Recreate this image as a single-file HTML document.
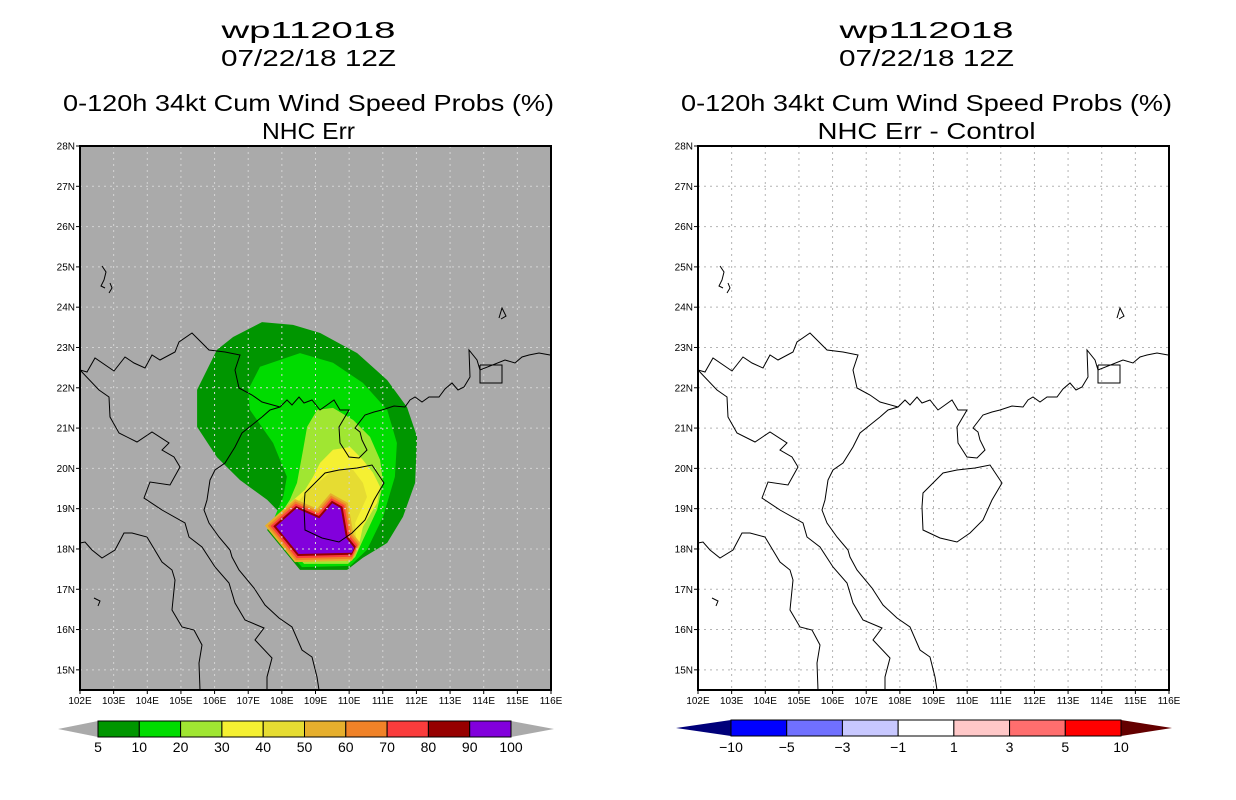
<!DOCTYPE html>
<html><head><meta charset="utf-8"><style>
html,body{margin:0;padding:0;background:#fff;}
svg{display:block;}
text{font-family:"Liberation Sans",sans-serif;}
</style></head><body>
<svg id="s" width="1236" height="800" viewBox="0 0 1236 800" xmlns="http://www.w3.org/2000/svg"></svg>
<script>
// ---- data ----
const levels = [5,10,20,30,40,50,60,70,80,90,100];
const levelColors = ["#009600","#00dc00","#a0e632","#f5f032","#e6dc32","#e6af2d","#f08228","#fa3c3c","#960000","#8200dc"];
const diffLabels = ["\u221210","\u22125","\u22123","\u22121","1","3","5","10"];
const diffColors = ["#0000ff","#7070ff","#c8c8ff","#ffffff","#ffc8c8","#ff6e6e","#ff0000"];
const latTicks = [15,16,17,18,19,20,21,22,23,24,25,26,27,28];
const lonTicks = [102,103,104,105,106,107,108,109,110,111,112,113,114,115,116];
// contour polygons (lon, lat)
const p05 = [[107.41,23.63],[108.33,23.56],[109.14,23.36],[110.24,22.86],[111.13,22.19],[111.72,21.52],[112.02,20.78],[111.96,19.64],[111.60,18.80],[111.13,18.15],[110.41,17.78],[109.94,17.48],[108.54,17.48],[107.56,18.47],[107.95,18.89],[107.56,19.22],[106.76,19.71],[106.07,20.28],[105.48,21.03],[105.48,21.95],[106.07,22.94],[106.55,23.26]];
const p10 = [[108.54,22.86],[109.52,22.62],[110.41,22.12],[111.13,21.45],[111.42,20.63],[111.36,19.79],[111.01,18.80],[110.53,17.98],[110.03,17.58],[108.6,17.55],[107.62,18.47],[108.04,19.29],[108.15,19.79],[107.74,20.63],[107.05,21.45],[107.0,21.95],[107.35,22.52]];
const p20 = [[109.05,21.45],[109.52,21.5],[110.12,21.2],[110.62,20.78],[110.92,20.21],[111.01,19.64],[110.83,18.97],[110.41,18.22],[110.18,17.8],[109.97,17.63],[108.66,17.63],[107.68,18.5],[108.24,19.22],[108.45,19.64],[108.63,20.46],[108.75,21.03]];
const p30 = [[109.52,20.46],[110.03,20.53],[110.41,20.21],[110.71,19.89],[110.92,19.54],[110.83,19.14],[110.41,18.55],[110.26,17.98],[109.91,17.7],[108.72,17.7],[107.74,18.52],[108.24,19.14],[108.69,19.47],[108.93,19.79],[109.14,20.14]];
const p40 = [[109.52,19.96],[110.12,19.96],[110.41,19.64],[110.53,19.29],[110.18,18.65],[110.21,18.05],[109.88,17.75],[108.78,17.75],[107.83,18.55],[108.33,19.04],[108.75,19.42]];
const pCore = [[107.95,18.55],[108.45,18.92],[109.14,18.67],[109.52,19.04],[109.67,18.97],[109.82,18.25],[110.08,17.98],[108.54,17.95]];
const ringHalfWidths = [11,9,7,5,3]; // px offsets for 50,60,70,80,90 rings

// basemap lines (right-panel pixel coordinates)
const coast = [
 [[698,370],[705,372],[713,358],[732,371],[743,357],[752,363],[763,368],[770,355],[778,360],[793,352],[797,342],[810,333],[817,340],[827,350],[843,352],[858,355],[853,370],[857,388],[870,395],[880,402],[898,407]],
 [[880,417],[888,410],[898,407],[905,400],[910,405],[917,397],[922,403],[930,400],[938,410],[945,405],[952,400],[958,410],[967,410],[957,427],[958,443],[967,457],[977,458],[985,450],[980,440],[978,432],[973,428],[983,415],[992,412],[1000,410],[1012,406],[1023,407],[1028,400],[1033,397],[1040,402],[1047,397],[1057,397],[1063,389],[1070,383],[1076,390],[1082,387],[1088,377],[1087,350],[1095,360],[1098,370],[1123,360],[1133,363],[1140,357],[1147,355],[1157,353],[1168,355]],
 [[880,417],[870,425],[860,433],[853,447],[843,463],[833,470],[828,480],[825,500],[822,510],[827,523],[837,537],[848,550],[850,557],[857,570],[872,588],[883,605],[897,618],[910,627],[920,650],[930,657],[935,677],[937,690]],
 [[698,370],[717,390],[727,397],[728,417],[737,433],[755,442],[770,432],[787,443],[780,450],[792,457],[798,467],[788,485],[768,482],[762,498],[780,510],[803,523],[807,537],[820,547],[833,567],[847,583],[853,603],[863,620],[882,628],[873,640],[890,658],[885,677],[885,690]],
 [[698,543],[703,542],[710,550],[720,558],[733,550],[742,533],[750,533],[765,537],[780,562],[790,570],[793,580],[790,610],[800,627],[812,630],[820,645],[817,663],[818,690]],
 [[922,507],[923,493],[933,483],[943,473],[957,470],[975,468],[990,465],[1002,483],[992,500],[983,520],[970,533],[957,542],[940,538],[923,530],[922,507]],
 [[1098,365],[1120,365],[1120,383],[1098,383],[1098,365]],
 [[720,266],[724,272],[722,280],[719,286],[723,288]],
 [[728,283],[730,288],[727,293]],
 [[712,598],[718,601],[716,606]],
 [[1117,318],[1120,308],[1124,316],[1119,319]]
];

// ---- geometry ----
const MAPW = 471, MAPH = 544, TOP = 146;
const LON0 = 102, LON1 = 116, LAT0 = 14.5, LAT1 = 28;
function xs(lon, x0){ return x0 + (lon - LON0) / (LON1 - LON0) * MAPW; }
function ys(lat){ return TOP + (LAT1 - lat) / (LAT1 - LAT0) * MAPH; }

const S = document.getElementById('s');
const NS = "http://www.w3.org/2000/svg";
function mk(tag, attrs, parent){
  const e = document.createElementNS(NS, tag);
  for (const k in attrs) e.setAttribute(k, attrs[k]);
  (parent || S).appendChild(e);
  return e;
}
function txt(str, x, y, size, anchor, parent, len){
  const t = mk('text', {x:x, y:y, 'font-size':size, 'text-anchor':anchor||'middle', fill:'#000'}, parent);
  if (len) { t.setAttribute('textLength', len); t.setAttribute('lengthAdjust','spacingAndGlyphs'); }
  t.textContent = str;
  return t;
}
function polyStr(pts, x0){ return pts.map(p => xs(p[0],x0).toFixed(1)+','+ys(p[1]).toFixed(1)).join(' '); }

function panel(x0, isLeft, titleLines, name){
  const g = mk('g', {});
  
  
  const cx = x0 + MAPW/2 - 7;
  const tw = [174, 175, 491, isLeft ? 93 : 218];
  const ty = [38, 66, 111, 139];
  titleLines.forEach((s, i) => {
    const t = txt(s, cx, ty[i], 23, 'middle', g, tw[i]);
    t.setAttribute('font-family', '"Liberation Mono", monospace');
    
    
  });
  const clipId = 'clip' + x0;
  const cp = mk('clipPath', {id: clipId}, g);
  mk('rect', {x:x0, y:TOP, width:MAPW, height:MAPH}, cp);
  const bg = mk('rect', {x:x0, y:TOP, width:MAPW, height:MAPH, fill: isLeft ? '#aaaaaa' : '#ffffff'}, g);
  
  
  const m = mk('g', {'clip-path':'url(#'+clipId+')'}, g);
  if (isLeft) {
    const fills = [[p05,0],[p10,1],[p20,2],[p30,3],[p40,4]];
    fills.forEach(([p, ci]) => {
      const pg = mk('polygon', {points: polyStr(p, x0), fill: levelColors[ci]}, m);
      
      
    });
    ringHalfWidths.forEach((hw, i) => {
      const pg = mk('polygon', {points: polyStr(pCore, x0), fill: levelColors[5+i], stroke: levelColors[5+i], 'stroke-width': hw*2, 'stroke-linejoin':'miter', 'stroke-miterlimit':2}, m);
      
      
    });
    const core = mk('polygon', {points: polyStr(pCore, x0), fill: levelColors[9]}, m);
    
    
  }
  const gridColor = isLeft ? '#d4d4d4' : '#b4b4b4';
  for (let lon = 103; lon <= 115; lon++) {
    const l = mk('line', {x1:xs(lon,x0), x2:xs(lon,x0), y1:TOP, y2:TOP+MAPH, stroke:gridColor, 'stroke-width':1, 'stroke-dasharray':'2,4'}, m);
    
    
  }
  for (let lat = 15; lat <= 27; lat++) {
    const l = mk('line', {x1:x0, x2:x0+MAPW, y1:ys(lat), y2:ys(lat), stroke:gridColor, 'stroke-width':1, 'stroke-dasharray':'2,4'}, m);
    
    
  }
  const off = x0 - 698;
  coast.forEach(line => {
    const pl = mk('polyline', {points: line.map(p => (p[0]+off)+','+p[1]).join(' '), fill:'none', stroke:'#000', 'stroke-width':1}, m);
    
    
  });
  const fr = mk('rect', {x:x0, y:TOP, width:MAPW, height:MAPH, fill:'none', stroke:'#000', 'stroke-width':2}, g);
  
  
  latTicks.forEach(lat => {
    const y = ys(lat);
    mk('line', {x1:x0-4, x2:x0, y1:y, y2:y, stroke:'#000', 'stroke-width':1}, g);
    const t = txt(lat + 'N', x0-5, y+3.5, 10, 'end', g);
    
    
  });
  lonTicks.forEach(lon => {
    const x = xs(lon, x0);
    mk('line', {x1:x, x2:x, y1:TOP+MAPH, y2:TOP+MAPH+4, stroke:'#000', 'stroke-width':1}, g);
    const t = txt(lon + 'E', x, TOP+MAPH+14, 10, 'middle', g);
    
    
  });
}

panel(80, true, ["wp112018","07/22/18 12Z","0-120h 34kt Cum Wind Speed Probs (%)","NHC Err"], 'left-panel-probabilities');
panel(698, false, ["wp112018","07/22/18 12Z","0-120h 34kt Cum Wind Speed Probs (%)","NHC Err - Control"], 'right-panel-difference');

// ---- colorbars ----
(function(){
  const g = mk('g', {});
  
  
  const bx0 = 98, bx1 = 511, y0 = 721, y1 = 737, n = levelColors.length;
  const w = (bx1 - bx0) / n;
  mk('polygon', {points: `58,729 ${bx0},${y0} ${bx0},${y1}`, fill:'#aaaaaa'}, g);
  mk('polygon', {points: `554,729 ${bx1},${y0} ${bx1},${y1}`, fill:'#aaaaaa'}, g);
  levelColors.forEach((c, i) => {
    const r = mk('rect', {x: bx0 + i*w, y: y0, width: w, height: y1-y0, fill: c, stroke:'#000', 'stroke-width':1}, g);
    
    
  });
  levels.forEach((v, i) => {
    const t = txt(String(v), bx0 + i*w, 752, 14, 'middle', g);
    
    
  });
})();
(function(){
  const g = mk('g', {});
  
  
  const bx0 = 731, bx1 = 1121, y0 = 720, y1 = 736, n = diffColors.length;
  const w = (bx1 - bx0) / n;
  mk('polygon', {points: `676,728 ${bx0},${y0} ${bx0},${y1}`, fill:'#00007a'}, g);
  mk('polygon', {points: `1172,728 ${bx1},${y0} ${bx1},${y1}`, fill:'#640000'}, g);
  diffColors.forEach((c, i) => {
    const r = mk('rect', {x: bx0 + i*w, y: y0, width: w, height: y1-y0, fill: c, stroke:'#000', 'stroke-width':1}, g);
    
    
  });
  diffLabels.forEach((v, i) => {
    const t = txt(v, bx0 + i*w, 752, 14, 'middle', g);
    
    
  });
})();
</script>
</body></html>
